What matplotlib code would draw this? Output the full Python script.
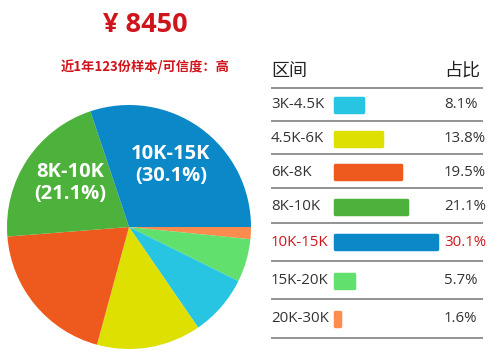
import matplotlib
matplotlib.use("Agg")
import matplotlib.pyplot as plt

# ---- data ----
ranges = ["3K-4.5K", "4.5K-6K", "6K-8K", "8K-10K", "10K-15K", "15K-20K", "20K-30K"]
shares = [8.1, 13.8, 19.5, 21.1, 30.1, 5.7, 1.6]
colors = ["#27c5e2", "#dde000", "#ee5a1d", "#4db23b", "#0a88c8", "#62e06e", "#fb8c4e"]
pie_order = ["20K-30K", "15K-20K", "3K-4.5K", "4.5K-6K", "6K-8K", "8K-10K", "10K-15K"]
title_text = "¥ 8450"
subtitle_text = "近1年123份样本/可信度：高"
header_left = "区间"
header_right = "占比"
highlight = "10K-15K"
pie_labels = {"10K-15K": "10K-15K\n(30.1%)", "8K-10K": "8K-10K\n(21.1%)"}

FONT = ["Open Sans", "Noto Sans CJK SC", "DejaVu Sans"]
plt.rcParams["font.family"] = FONT

W, H = 500, 356
fig = plt.figure(figsize=(W / 100, H / 100), dpi=100)

# ---- pie ----
cx, cy, r = 129, 227, 122
axp = fig.add_axes([(cx - r) / W, (H - cy - r) / H, 2 * r / W, 2 * r / H])
idx = [ranges.index(n) for n in pie_order]
wedges, _ = axp.pie([shares[i] for i in idx], colors=[colors[i] for i in idx],
                    startangle=0, counterclock=False,
                    wedgeprops=dict(linewidth=0))
axp.set_aspect("equal")
axp.set_xlim(-1, 1)
axp.set_ylim(-1, 1)

# ---- overlay in pixel coordinates ----
ax = fig.add_axes([0, 0, 1, 1])
ax.set_xlim(0, W)
ax.set_ylim(H, 0)
ax.axis("off")
ax.patch.set_alpha(0)

red = "#d0141c"
ax.text(145, 25, title_text, ha="center", va="center", color=red,
        fontsize=19.5, fontweight="bold", family=FONT)
ax.text(145, 67, subtitle_text, ha="center", va="center", color=red,
        fontsize=9.5, fontweight="bold", family=["Noto Sans CJK SC", "DejaVu Sans"])

# pie labels
ax.text(171, 165, pie_labels["10K-15K"], ha="center", va="center", color="white",
        fontsize=14.5, fontweight="bold", linespacing=1.1)
ax.text(70, 183, pie_labels["8K-10K"], ha="center", va="center", color="white",
        fontsize=14.5, fontweight="bold", linespacing=1.1)

# table
txt = "#333333"
ax.text(271, 71, header_left, ha="left", va="center", color="#222222", fontsize=13,
        family=["Noto Sans CJK SC", "DejaVu Sans"])
ax.text(444, 71, header_right, ha="left", va="center", color="#222222", fontsize=13,
        family=["Noto Sans CJK SC", "DejaVu Sans"])

line_y = [88, 121, 154, 188, 223, 261, 299, 338]
row_y = [105, 139, 172, 207, 242, 281, 319]
for y in line_y:
    ax.plot([271, 483], [y, y], color="#8a8a8a", lw=1.3, solid_capstyle="butt")

bar_x0 = 335
scale = 3.4
bar_h = 14
ax.barh(row_y, [s * scale for s in shares], left=bar_x0, height=bar_h,
        color=colors, edgecolor=colors, linewidth=2.5, joinstyle="round")

for name, s, y in zip(ranges, shares, row_y):
    c = red if name == highlight else txt
    ax.text(271, y, name, ha="left", va="center", color=c, fontsize=10.8)
    ax.text(444, y, f"{s}%", ha="left", va="center", color=c, fontsize=10.8)

fig.savefig("out.png", dpi=100)
